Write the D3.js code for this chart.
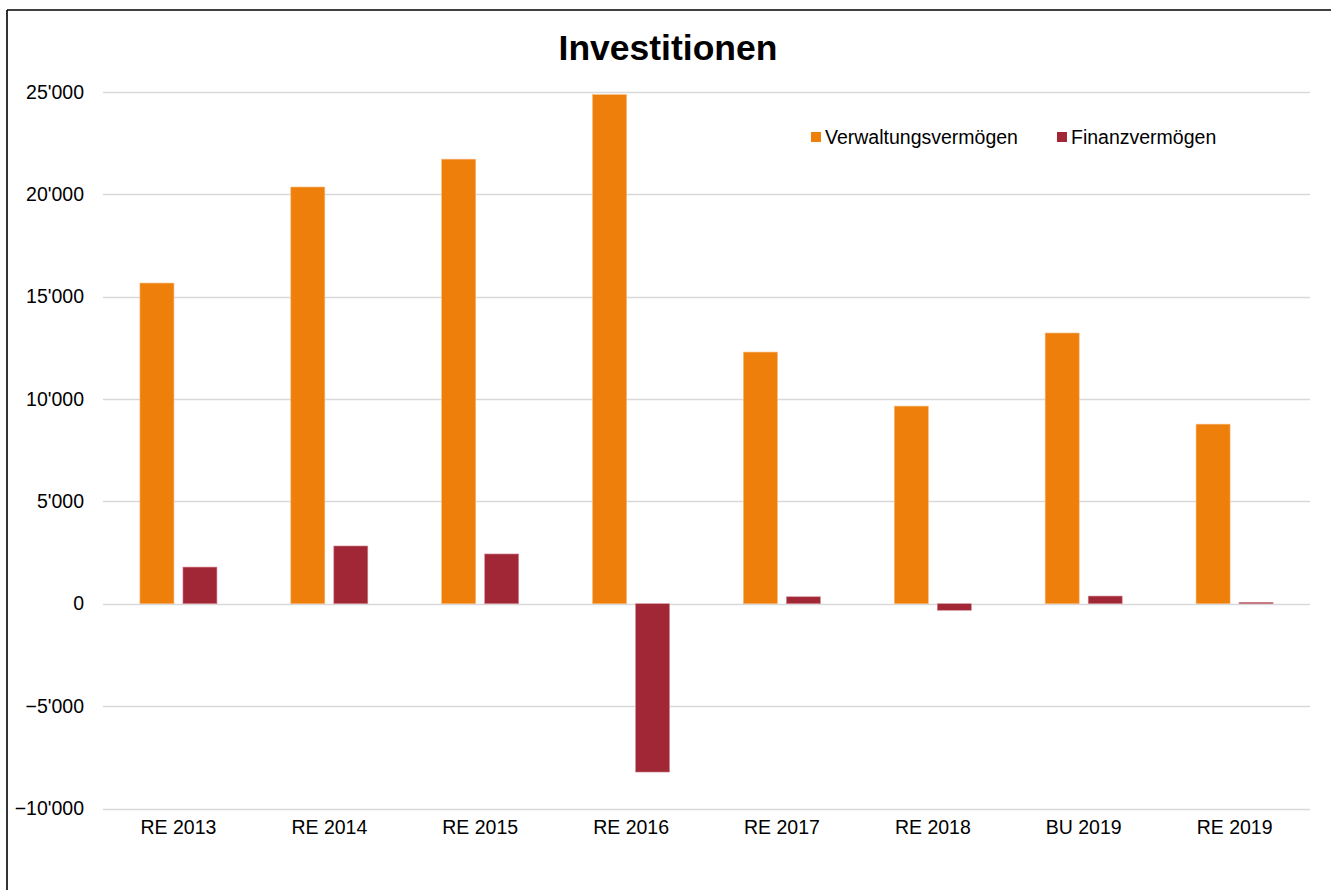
<!DOCTYPE html>
<html><head><meta charset="utf-8">
<script src="https://cdnjs.cloudflare.com/ajax/libs/d3/7.8.5/d3.min.js"></script>
<style>html,body{margin:0;padding:0;background:#fff;overflow:hidden}svg{display:block}</style>
</head><body><svg id="c" width="1331" height="890"></svg>
<script>
const categories = ["RE 2013","RE 2014","RE 2015","RE 2016","RE 2017","RE 2018","BU 2019","RE 2019"];
const verwaltungsvermoegen = [15660, 20350, 21710, 24860, 12290, 9650, 13220, 8770];
const finanzvermoegen = [1790, 2820, 2430, -8220, 340, -320, 375, 70];
const seriesNames = ["Verwaltungsvermögen","Finanzvermögen"];
const seriesColors = ["#EF7F0B","#A12736"];
const yTicks = [-10000,-5000,0,5000,10000,15000,20000,25000];

const svg = d3.select("#c");
const font = "'Liberation Sans', Arial, sans-serif";
// outer border (top and left only visible)
svg.append("line").attr("x1",7).attr("x2",1331).attr("y1",10).attr("y2",10)
  .attr("stroke","#000").attr("stroke-width",1.6);
svg.append("line").attr("x1",7).attr("x2",7).attr("y1",10).attr("y2",890)
  .attr("stroke","#000").attr("stroke-width",1.6);

const left = 103, right = 1310;
const y = d3.scaleLinear().domain([-10000,25000]).range([808.5, 91.8]);
const x0 = d3.scaleBand().domain(categories).range([left,right]).padding(0);
const groupW = 77;
const x1 = d3.scaleBand().domain(seriesNames).range([0,groupW]).paddingInner(9/43).paddingOuter(0);

// grid
svg.append("g").selectAll("line").data(yTicks).join("line")
  .attr("x1",left).attr("x2",right)
  .attr("y1",d=>Math.round(y(d))+0.5).attr("y2",d=>Math.round(y(d))+0.5)
  .attr("stroke","#D9D9D9").attr("stroke-width",1.3);

const fmt = v => { const s = d3.format(",")(v); return s.replace(/,/g,"'"); };
// y axis labels
const yAxis = d3.axisLeft(y).tickValues(yTicks).tickSize(0).tickPadding(0).tickFormat(fmt);
const ga = svg.append("g").attr("transform",`translate(84,0)`).call(yAxis);
ga.select(".domain").remove();
ga.selectAll("text").attr("font-family",font).attr("font-size",19.5).attr("fill","#000");

// x axis labels
const xAxis = d3.axisBottom(x0).tickSize(0).tickPadding(0);
const gx = svg.append("g").attr("transform",`translate(0,820)`).call(xAxis);
gx.select(".domain").remove();
gx.selectAll("text").attr("font-family",font).attr("font-size",19.5).attr("fill","#000").attr("dy","0.72em");

// bars
const data = categories.map((c,i)=>({c, vals:[verwaltungsvermoegen[i], finanzvermoegen[i]]}));
const off = (x0.bandwidth()-groupW)/2;
const g = svg.append("g");
data.forEach(d=>{
  d.vals.forEach((v,j)=>{
    const y0 = y(0), yv = y(v);
    g.append("rect")
      .attr("x", x0(d.c)+off+x1(seriesNames[j]))
      .attr("width", x1.bandwidth())
      .attr("y", Math.min(y0,yv))
      .attr("height", Math.abs(yv-y0))
      .attr("fill", seriesColors[j])
      .attr("stroke", j===0 ? "#F6B87A" : "#D28C95")
      .attr("stroke-width", 0.6);
  });
});

// title
svg.append("text").attr("x",668).attr("y",59.5).attr("text-anchor","middle")
  .attr("font-family",font).attr("font-weight","bold").attr("font-size",35.5).text("Investitionen");

// legend
const legX = [811, 1057];
seriesNames.forEach((n,i)=>{
  svg.append("rect").attr("x",legX[i]).attr("y",132).attr("width",10).attr("height",10).attr("fill",seriesColors[i]);
  svg.append("text").attr("x",legX[i]+14).attr("y",137).attr("dy","0.35em")
    .attr("font-family",font).attr("font-size",19.5).text(n);
});
</script></body></html>
